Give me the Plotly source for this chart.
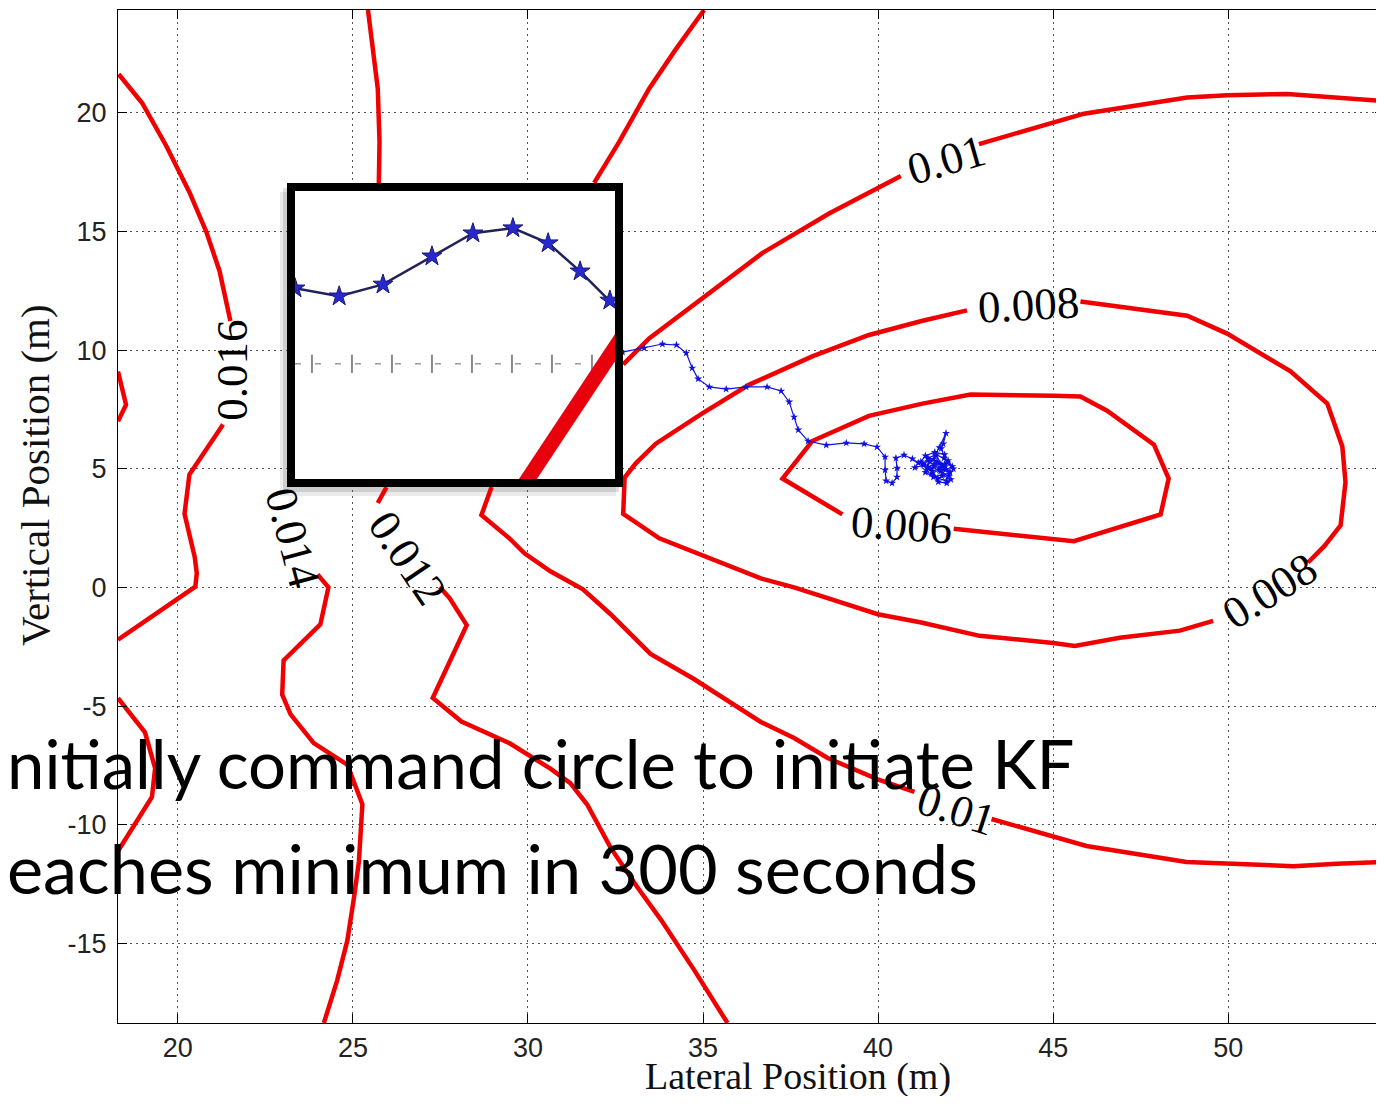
import plotly.graph_objects as go

# ---------------- data ----------------
x_ticks = [20, 25, 30, 35, 40, 45, 50]
x_ticktext = ["20", "25", "30", "35", "40", "45", "50"]
y_ticks = [-15, -10, -5, 0, 5, 10, 15, 20]
y_ticktext = ["-15", "-10", "-5", "0", "5", "10", "15", "20"]

# contour lines (visible pieces only; None = hidden by a label or by the inset)
c016_x = [18.31, 18.98, 19.67, 20.33, 20.81, 21.19, 21.50, None, 21.29, 20.33, 20.19, 20.48, 20.54, 20.50, 18.29]
c016_y = [21.63, 20.42, 18.61, 16.66, 15.00, 13.34, 11.23, None, 6.87, 4.76, 3.10, 1.29, 0.60, 0.03, -2.20]

c018_x = [18.29, 18.52, 18.29, None, 18.29, 19.06, 19.35, 19.26, 18.29]
c018_y = [9.10, 7.70, 7.00, None, -4.67, -6.11, -7.62, -8.83, -11.11]

c014_x = [25.43, 25.71, 25.76, 25.74, None, 23.99, 24.30, 24.07, 23.02, 22.98, 23.22, 23.88, 24.84, 25.27, 25.17, 25.03, 24.84, 24.55, 24.17]
c014_y = [24.34, 21.02, 18.77, 17.05, None, 0.55, 0.00, -1.56, -3.08, -4.52, -5.35, -6.56, -7.47, -9.14, -11.56, -13.08, -14.89, -16.56, -18.36]

c012_x = [35.03, 34.22, 33.46, 32.60, 31.89, None, 25.96, 25.71, None, 27.48, 27.76, 28.25, 27.28, 28.10, 29.49, 30.64, 31.21, 31.69, 32.36, 33.12, 33.79, 34.74, 35.70]
c012_y = [24.34, 22.68, 21.02, 18.77, 17.05, None, 4.23, 3.56, None, 0.02, -0.45, -1.59, -4.66, -5.65, -6.58, -7.64, -8.25, -9.15, -10.97, -12.63, -13.99, -16.11, -18.36]

c010_x = [54.45, 53.11, 51.69, 49.97, 48.83, 45.88, 42.88, None, 40.65, 38.60, 36.70, 34.79, 33.46, 32.72,
          None, 28.96, 28.67, 29.47, 29.90, 30.64, 31.57, 32.36, 33.50, 34.74, 36.65, 37.60, 38.56, 39.99, 41.04,
          None, 43.24, 45.00, 45.95, 48.81, 50.00, 51.86, 53.10, 54.45]
c010_y = [20.50, 20.65, 20.80, 20.75, 20.65, 19.97, 18.69, None, 17.34, 15.76, 14.10, 12.00, 10.50, 9.40,
          None, 4.23, 3.05, 2.07, 1.44, 0.68, -0.08, -1.13, -2.80, -3.86, -5.67, -6.35, -7.19, -8.09, -8.62,
          None, -9.76, -10.51, -10.90, -11.57, -11.65, -11.75, -11.65, -11.57]

c008_x = [45.78, 48.83, 49.97, 51.78, 52.83, 53.26, 53.35, 53.21, 52.75, 52.28, None, 49.57, 48.62, 46.90, 45.62,
          45.00, 42.90, 41.20, 39.99, 38.56, 37.60, 36.65, 35.00, 33.75, 32.72, 32.76, 33.08, 33.65, 34.98,
          36.31, 38.12, 39.74, 41.27, 42.54]
c008_y = [12.05, 11.45, 10.70, 9.11, 7.75, 5.94, 4.43, 2.62, 1.75, 1.05, None, -1.41, -1.82, -2.12, -2.47,
          -2.34, -2.04, -1.47, -1.13, -0.45, 0.00, 0.38, 1.36, 2.07, 3.10, 4.63, 5.23, 6.06, 7.34,
          8.54, 9.74, 10.64, 11.24, 11.68]

c006_x = [38.98, 37.27, 38.12, 39.74, 41.27, 42.64, 45.02, 45.78, 46.54, 47.88, 48.30, 48.07, 45.59, 42.16]
c006_y = [3.08, 4.59, 6.17, 7.23, 7.75, 8.13, 8.08, 8.05, 7.45, 6.02, 4.59, 3.08, 1.95, 2.47]

# contour labels
label_text = ["0.016", "0.014", "0.012", "0.01", "0.008", "0.006", "0.008", "0.01"]
label_x = [21.54, 23.28, 26.56, 41.94, 44.31, 40.66, 51.18, 42.25]
label_y = [9.17, 2.09, 1.24, 18.02, 11.91, 2.63, -0.15, -9.38]
label_angle = [-90, 75, 56, -16, -3, 4, -32, 18]

# vehicle trajectory (main axes)
traj_x = [32.70, 33.32, 33.84, 34.24, 34.52, 34.69, 34.86, 35.18, 35.66, 36.23, 36.83, 37.23, 37.46, 37.60,
          37.72, 38.00, 38.52, 39.09, 39.60, 39.97, 40.20, 40.20, 40.23, 40.40, 40.54, 40.54, 40.51, 40.74,
          40.98, 41.15, 41.05, 41.30, 41.45, 41.38, 41.60, 41.52, 41.75, 41.68, 41.90, 41.82, 42.05, 41.95,
          41.70, 41.55, 41.80, 42.00, 42.12, 41.92, 41.66, 41.48, 41.35, 41.58, 41.85, 42.08, 41.96, 41.72,
          41.50, 41.28, 41.42, 41.65, 41.88, 42.15, 42.02, 41.78, 41.60, 41.40, 41.22, 41.35, 41.62, 41.90,
          41.98, 41.80, 41.86, 41.94, 41.75, 41.58, 41.82, 42.05, 41.92, 41.70]
traj_y = [9.92, 10.09, 10.26, 10.22, 9.88, 9.25, 8.79, 8.45, 8.36, 8.45, 8.45, 8.28, 7.82, 7.18,
          6.64, 6.17, 6.00, 6.09, 6.05, 5.92, 5.50, 4.95, 4.49, 4.40, 4.65, 5.03, 5.45, 5.58,
          5.42, 5.25, 5.05, 5.15, 5.40, 4.95, 5.10, 4.80, 4.95, 5.30, 5.20, 4.70, 4.85, 4.50,
          4.60, 4.90, 5.05, 5.35, 5.10, 4.95, 5.55, 5.30, 4.85, 4.65, 4.75, 4.55, 4.40, 4.45,
          5.00, 5.20, 5.45, 5.60, 5.45, 5.00, 4.70, 4.90, 5.20, 5.05, 5.30, 5.55, 5.70, 5.60,
          5.25, 5.85, 6.05, 6.50, 5.90, 5.40, 5.15, 4.85, 5.10, 5.25]

# inset (magnified view, inset units)
inset_traj_x = [0.00, 1.38, 2.75, 4.28, 5.56, 6.81, 7.91, 8.91, 9.84, 10.40]
inset_traj_y = [5.96, 5.71, 6.08, 6.96, 7.68, 7.84, 7.37, 6.49, 5.58, 5.00]
inset_grid_x = [0.00, 9.60]
inset_grid_y = [3.60, 3.60]
inset_tick_x = [0.53, 1.78, 3.03, 4.28, 5.53, 6.78, 8.03, 9.28]
inset_tick_y = [3.60, 3.60, 3.60, 3.60, 3.60, 3.60, 3.60, 3.60]
inset_red_x = [7.10, 10.30]
inset_red_y = [-0.27, 4.56]

overlay_lines = ["nitially command circle to initiate KF", "eaches minimum in 300 seconds"]

# ---------------- layout helpers ----------------
PAGE_OFF = 8                     # default body margin of the html page
W, H = 1384 - PAGE_OFF, 1104 - 2 * PAGE_OFF
L, R, T, B = 118, 1384, 10, 1023  # plot area in page pixels
XR = [18.29, 54.45]
YR = [-18.36, 24.34]


def px_x(p):
    return (p - L) / (R - L)


def px_y(p):
    return (B - p) / (B - T)


RED = "#f00000"
fig = go.Figure()

for cx, cy in [(c016_x, c016_y), (c018_x, c018_y), (c014_x, c014_y), (c012_x, c012_y),
               (c010_x, c010_y), (c008_x, c008_y), (c006_x, c006_y)]:
    fig.add_trace(go.Scatter(x=cx, y=cy, mode="lines", line=dict(color=RED, width=4.5),
                             connectgaps=False, hoverinfo="skip"))

fig.add_trace(go.Scatter(x=traj_x, y=traj_y, mode="lines+markers",
                         line=dict(color="#1010e0", width=1.2),
                         marker=dict(symbol="star", size=6, color="#1010e0"),
                         hoverinfo="skip"))

# inset traces
fig.add_trace(go.Scatter(x=inset_grid_x, y=inset_grid_y, mode="lines", xaxis="x2", yaxis="y2",
                         line=dict(color="#9a9a9a", width=1.5, dash="6px,14px"), hoverinfo="skip"))
fig.add_trace(go.Scatter(x=inset_tick_x, y=inset_tick_y, mode="markers", xaxis="x2", yaxis="y2",
                         marker=dict(symbol="line-ns", size=13, line=dict(color="#8a8a8a", width=2)),
                         hoverinfo="skip"))
fig.add_trace(go.Scatter(x=inset_red_x, y=inset_red_y, mode="lines", xaxis="x2", yaxis="y2",
                         line=dict(color="#e8000c", width=15), hoverinfo="skip"))
fig.add_trace(go.Scatter(x=inset_traj_x, y=inset_traj_y, mode="lines+markers", xaxis="x2", yaxis="y2",
                         line=dict(color="#22225a", width=2.5),
                         marker=dict(symbol="star", size=15, color="#2828d0",
                                     line=dict(color="#1a1a70", width=1)),
                         hoverinfo="skip"))

tickfont = dict(family="Liberation Sans, Arial, sans-serif", size=27, color="#222222")
common_axis = dict(showline=True, linecolor="black", linewidth=1, mirror="ticks",
                   ticks="inside", ticklen=9, tickcolor="black", showgrid=True,
                   gridcolor="#555555", griddash="2px,4px", gridwidth=1, zeroline=False,
                   tickfont=tickfont)

fig.update_layout(
    width=W, height=H,
    margin=dict(l=L - PAGE_OFF, r=0, t=T - PAGE_OFF, b=H - (B - PAGE_OFF)),
    paper_bgcolor="white", plot_bgcolor="white",
    showlegend=False,
    xaxis=dict(range=XR, tickvals=x_ticks, ticktext=x_ticktext, domain=[0, 1],
               ticklabelstandoff=1, **common_axis),
    yaxis=dict(range=YR, tickvals=y_ticks, ticktext=y_ticktext, domain=[0, 1],
               ticklabelstandoff=5, **common_axis),
    xaxis2=dict(domain=[px_x(295), px_x(615)], anchor="y2", range=[0, 10], visible=False),
    yaxis2=dict(domain=[px_y(479), px_y(191)], anchor="x2", range=[0, 9], visible=False),
)

shapes = []
# soft shadow around inset
for dx, dy, op in [(-7, 9, 0.08), (-4, 5, 0.12)]:
    shapes.append(dict(type="rect", xref="paper", yref="paper", layer="below",
                       x0=px_x(287 + dx), x1=px_x(623 + dx), y0=px_y(487 + dy), y1=px_y(183 + dy),
                       fillcolor="black", opacity=op, line=dict(width=0)))
# inset frame
shapes.append(dict(type="rect", xref="paper", yref="paper", layer="above",
                   x0=px_x(291), x1=px_x(619), y0=px_y(483), y1=px_y(187),
                   line=dict(color="black", width=8), fillcolor="rgba(0,0,0,0)"))
fig.update_layout(shapes=shapes)

ann = []
serif = "Liberation Serif, Times New Roman, serif"
for t, x, y, a in zip(label_text, label_x, label_y, label_angle):
    ann.append(dict(x=x, y=y, xref="x", yref="y", text=t, showarrow=False, textangle=a,
                    xanchor="center", yanchor="middle",
                    font=dict(family=serif, size=45, color="black")))
ann.append(dict(x=px_x(798), y=px_y(1076), xref="paper", yref="paper", text="Lateral Position (m)",
                showarrow=False, xanchor="center", yanchor="middle",
                font=dict(family=serif, size=38, color="#111111")))
ann.append(dict(x=px_x(35), y=px_y(475), xref="paper", yref="paper", text="Vertical Position (m)",
                showarrow=False, textangle=-90, xanchor="center", yanchor="middle",
                font=dict(family=serif, size=41, color="#111111")))
for txt, yc, fs in zip(overlay_lines, [763, 867], [67, 68.4]):
    ann.append(dict(x=px_x(5), y=px_y(yc), xref="paper", yref="paper", text=txt, showarrow=False,
                    xanchor="left", yanchor="middle",
                    font=dict(family="Lato, Carlito, sans-serif", size=fs, color="black")))
fig.update_layout(annotations=ann)

fig.write_html("out.html")
